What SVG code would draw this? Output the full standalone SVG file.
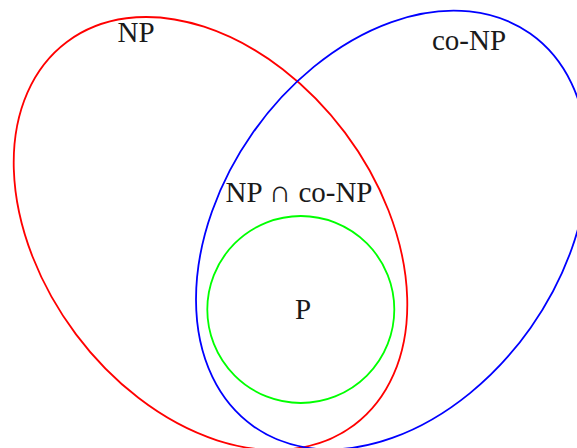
<svg xmlns="http://www.w3.org/2000/svg" width="577" height="448" viewBox="0 0 577 448">
<style>
.set{fill:none;stroke-width:1.8}
.lbl{font-family:"Liberation Serif","DejaVu Serif",serif;font-size:29px;fill:#1a1a1a;text-anchor:middle}
</style>
<rect width="577" height="448" fill="#fff"/>
<g id="NP">
<ellipse class="set" stroke="#ff0000" cx="210.5" cy="233.5" rx="239.45" ry="168.1" transform="rotate(53.13 210.5 233.5)"/>
<text class="lbl" x="136" y="42">NP</text>
</g>
<g id="coNP">
<ellipse class="set" stroke="#0000ff" cx="391.9" cy="230" rx="240.2" ry="169.7" transform="rotate(-54.86 391.9 230)"/>
<text class="lbl" x="469" y="50">co-NP</text>
</g>
<g id="P">
<circle class="set" stroke="#00ff00" cx="300.8" cy="309.5" r="93.5"/>
<text class="lbl" x="303" y="319">P</text>
</g>
<g id="intersection">
<text class="lbl" x="299" y="201.5">NP <tspan font-size="31">∩</tspan> co-NP</text>
</g>
<g id="connectors"/>
</svg>
